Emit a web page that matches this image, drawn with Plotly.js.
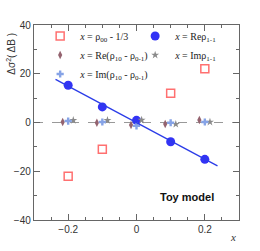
<!DOCTYPE html>
<html>
<head>
<meta charset="utf-8">
<script src="https://cdn.plot.ly/plotly-3.0.1.min.js"></script>
<style>html,body{margin:0;padding:0;background:#fff;}#chart{width:260px;height:251px;}</style>
</head>
<body>
<div id="chart"></div>
<script>
// x values (generated polarization parameter)
const xVals = [-0.2, -0.1, 0, 0.1, 0.2];
const xSq = [-0.2, -0.1, 0.1, 0.2];
// series values
const rho00Vals = [-22, -11, 12, 22.1];          // x = rho00 - 1/3
const reRho1m1Vals = [15.3, 6.4, 0.9, -7.9, -15.1]; // x = Re rho1-1
const reDiffVals = [0.2, -0.1, -1.0, -0.6, 1.0];   // x = Re(rho10 - rho0-1)
const imRho1m1Vals = [0.9, 0.9, 1.0, -0.7, 0.2];   // x = Im rho1-1
const imDiffVals = [0.6, 0.2, -1.4, -0.1, 0.2];    // x = Im(rho10 - rho0-1)
// fitted line
const fitX = [-0.237, 0.237];
const fitY = [17.7, -17.8];
// small horizontal offsets to separate overlapping series
const offDiamond = -0.016, offStar = 0.015;

const shift = (arr, d) => arr.map(v => v + d);

const traces = [
  {x: xSq, y: rho00Vals, type: 'scatter', mode: 'markers',
   name: '<i>x</i> = ρ<sub>00</sub> - 1/3',
   marker: {symbol: 'square-open', size: 8, color: '#ff7070', line: {width: 1.5}}},
  {x: xVals, y: reRho1m1Vals, type: 'scatter', mode: 'markers',
   name: '<i>x</i> = Reρ<sub>1-1</sub>',
   marker: {symbol: 'circle', size: 9, color: '#3333f5'}},
  {x: shift(xVals, offDiamond), y: reDiffVals, type: 'scatter', mode: 'markers',
   name: '<i>x</i> = Re(ρ<sub>10</sub> - ρ<sub>0-1</sub>)',
   marker: {symbol: 'diamond-tall', size: 6, color: '#94636f'}},
  {x: shift(xVals, offStar), y: imRho1m1Vals, type: 'scatter', mode: 'markers',
   name: '<i>x</i> = Imρ<sub>1-1</sub>',
   marker: {symbol: 'star', size: 6, color: '#8a8a8a'}},
  {x: xVals, y: imDiffVals, type: 'scatter', mode: 'markers',
   name: '<i>x</i> = Im(ρ<sub>10</sub> - ρ<sub>0-1</sub>)',
   marker: {symbol: 'cross', size: 6, color: '#86a3e6'}},
  {x: fitX, y: fitY, type: 'scatter', mode: 'lines', showlegend: false,
   line: {color: '#2b3ce8', width: 1.3}}
];

const axisCommon = {
  showline: true, mirror: 'ticks', linecolor: '#666', linewidth: 1.2,
  ticks: 'inside', ticklen: 6, tickcolor: '#666', tickwidth: 1,
  showgrid: false, zeroline: false,
  tickfont: {family: 'Liberation Sans, Arial, sans-serif', size: 10, color: '#333'}
};

const layout = {
  width: 260, height: 251,
  margin: {l: 34, r: 21, t: 25, b: 31},
  paper_bgcolor: '#fff', plot_bgcolor: '#fff',
  xaxis: Object.assign({}, axisCommon, {
    range: [-0.3, 0.3], tickvals: [-0.2, 0, 0.2], ticktext: ['−0.2', '0', '0.2'],
    minor: {dtick: 0.05, tick0: 0, ticks: 'inside', ticklen: 3, tickcolor: '#666'}
  }),
  yaxis: Object.assign({}, axisCommon, {
    range: [-40, 40], dtick: 20, tick0: 0,
    minor: {dtick: 10, tick0: 0, ticks: 'inside', ticklen: 3, tickcolor: '#666'}
  }),
  showlegend: true,
  legend: {
    orientation: 'h', x: 0.03, y: 1.018, xanchor: 'left', yanchor: 'top',
    bgcolor: 'rgba(0,0,0,0)', entrywidth: 50, tracegroupgap: 0,
    font: {family: 'Liberation Serif, Times New Roman, serif', size: 10, color: '#222'}
  },
  shapes: [{type: 'line', xref: 'paper', yref: 'y', x0: 0, x1: 1, y0: 0, y1: 0,
            line: {color: '#999', width: 1, dash: 'dash'}, layer: 'below'}],
  annotations: [
    {text: '<b>Toy model</b>', xref: 'paper', yref: 'paper', x: 0.746, y: 0.118,
     xanchor: 'center', yanchor: 'middle',
     showarrow: false, font: {family: 'Liberation Sans, Arial, sans-serif', size: 11, color: '#111'}},
    {text: '<i>x</i>', xref: 'paper', yref: 'paper', x: 0.995, y: -0.045, xanchor: 'right', yanchor: 'top',
     showarrow: false, font: {family: 'Liberation Serif, Times New Roman, serif', size: 11, color: '#333'}},
    {text: 'Δσ<sup>2</sup>( ΔB )', xref: 'paper', yref: 'paper', x: -0.11, y: 0.855,
     textangle: -90, showarrow: false, xanchor: 'center', yanchor: 'middle',
     font: {family: 'Liberation Sans, Arial, sans-serif', size: 10, color: '#333'}}
  ]
};

Plotly.newPlot('chart', traces, layout, {displayModeBar: false, staticPlot: true});
</script>
</body>
</html>
